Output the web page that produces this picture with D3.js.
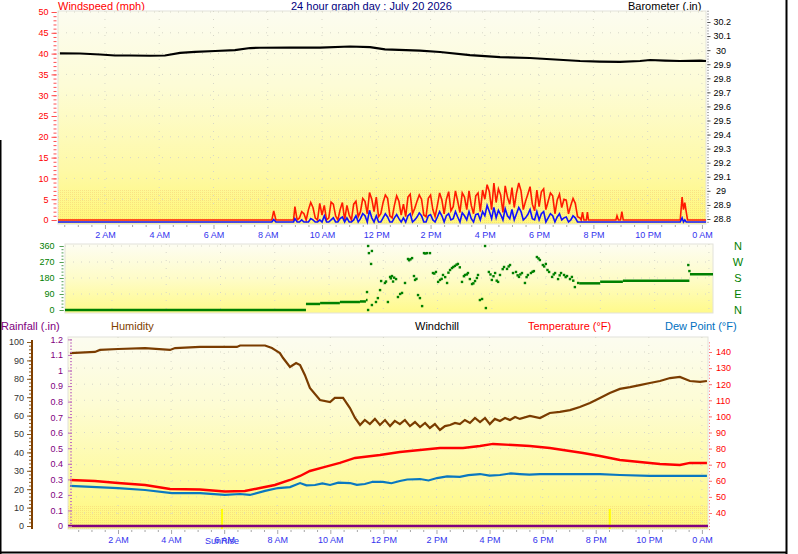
<!DOCTYPE html>
<html>
<head>
<meta charset="utf-8">
<script src="https://cdnjs.cloudflare.com/ajax/libs/d3/7.8.5/d3.min.js"></script>
<style>
body { margin: 0; background: #fff; }
svg { display: block; font-family: Arial, "Liberation Sans", sans-serif; }
</style>
</head>
<body>
<div id="chart"></div>
<script>
// ---- data (hours of the day, 0 = midnight) ----
var xTickHours = [2, 4, 6, 8, 10, 12, 14, 16, 18, 20, 22, 24];
var xTickLabels = ['2 AM', '4 AM', '6 AM', '8 AM', '10 AM', '12 PM', '2 PM', '4 PM', '6 PM', '8 PM', '10 PM', '0 AM'];

var windTicks = [0, 5, 10, 15, 20, 25, 30, 35, 40, 45, 50];
var baroTicks = [28.8, 28.9, 29, 29.1, 29.2, 29.3, 29.4, 29.5, 29.6, 29.7, 29.8, 29.9, 30, 30.1, 30.2];
var baroLabels = ['28.8', '28.9', ' 29', '29.1', '29.2', '29.3', '29.4', '29.5', '29.6', '29.7', '29.8', '29.9', ' 30', '30.1', '30.2'];
var dirTicks = [0, 90, 180, 270, 360];
var compassLabels = ['N', 'W', 'S', 'E', 'N'];
var rainTicks = [0, 0.1, 0.2, 0.3, 0.4, 0.5, 0.6, 0.7, 0.8, 0.9, 1, 1.1, 1.2];
var humTicks = [0, 10, 20, 30, 40, 50, 60, 70, 80, 90, 100];
var tempTicks = [40, 50, 60, 70, 80, 90, 100, 110, 120, 130, 140];

// wind gust / average every 5 minutes from 9:00 to 19:30
var gustDay = [
  3.2, 0, 0.5, 2, 1.5, 0, 2.5, 4.2, 3, 0.5, 0, 4,
  1.2, 3.5, 0, 0.5, 4.3, 3.8, 1, 0, 2.5, 4.2, 0, 3.5,
  1.2, 0, 3.8, 4.5, 0.8, 2, 5.2, 4.5, 1.5, 6.6, 5, 2,
  5.5, 0.8, 1.5, 4.2, 6, 5.2, 1, 0.5, 3.5, 5.8, 4.5, 1.2,
  3.8, 0.8, 5.5, 6.2, 1.5, 2.8, 4.5, 6, 5, 1.2, 0.8, 5.2,
  6, 2.5, 0.8, 3.5, 6.5, 4.8, 1.5, 5, 6.8, 2.2, 3.2, 7,
  4.5, 1.8, 6.5, 5.5, 2.5, 7, 3.5, 1.5, 5.8, 6.5, 2, 7.2,
  5, 8.5, 6.8, 2.5, 8.9, 4.2, 7.5, 6, 1.8, 8.2, 5.5, 3.8,
  7.8, 3, 6.5, 8.9, 7, 2.5, 4.5, 6.2, 8, 3.8, 2.2, 7.2,
  3.2, 6.8, 7.5, 2.5, 4.5, 6.5, 5.8, 1.5, 4.8, 6.2, 3, 5,
  4.8, 1.5, 3.5, 5.2, 4, 0.8, 0.5
];
var avgDay = [
  0.8, 0, 0, 0.5, 0, 0, 0, 0.8, 0.5, 0, 0, 0.5,
  0, 1.5, 0, 0, 0.5, 1, 0, 0, 0.8, 1.2, 0, 1,
  0, 0, 0.5, 1.5, 0, 0.8, 2, 1.5, 0, 2.8, 1, 0,
  1.5, 0, 0, 1, 2, 1.2, 0, 0, 1, 1.8, 0.8, 0,
  1, 0, 1.5, 2, 0, 0.5, 1.2, 2.2, 1.5, 0, 0, 1.5,
  1.8, 0.5, 0, 1.2, 2.5, 1.5, 0, 1.5, 2, 0.5, 0.8, 2.5,
  1.2, 0, 2.2, 1.5, 0.5, 2.5, 0.8, 0, 1.8, 2, 0.5, 2.5,
  1.5, 4, 2.5, 0.8, 3.5, 1, 2.8, 1.8, 0.5, 3.2, 1.5, 0.8,
  3, 0.5, 2, 3.5, 2.5, 0.5, 1, 1.8, 3, 0.8, 0.5, 2.5,
  0.5, 2, 2.5, 0, 1, 2, 1.5, 0, 1.2, 2, 0.5, 1,
  1.2, 0, 0.5, 1.5, 1, 0, 0
];
// [hour, gust, average] outside the busy period
var windExtra = [
  [0.27, 0, 0], [8.15, 0, 0], [8.22, 2.2, 0.6], [8.3, 0, 0], [8.95, 0, 0],
  [19.55, 0, 0], [19.6, 1.9, 0], [19.65, 0, 0], [19.74, 0, 0], [19.78, 1.9, 0], [19.82, 0, 0],
  [20.83, 0, 0], [20.87, 1, 0], [20.92, 0, 0], [21.0, 0, 0], [21.05, 2, 0], [21.1, 0, 0],
  [23.2, 0, 0], [23.27, 5.5, 1], [23.32, 2.5, 0], [23.37, 4.2, 0.5], [23.42, 2, 0], [23.47, 0, 0],
  [24.15, 0, 0]
];

var baroTimes = [0.34, 1.08, 1.82, 2.37, 2.92, 3.66, 4.21, 4.77, 5.32, 6.06, 6.79, 7.35, 7.71, 8.82, 9.93, 11.03,
  11.77, 12.32, 13.61, 14.35, 15.45, 16.56, 17.66, 19.51, 20.24, 20.98, 21.72, 22.09, 22.64, 23.19, 23.93, 24.15];
var baroValues = [29.977, 29.976, 29.969, 29.962, 29.962, 29.960, 29.962, 29.980, 29.987, 29.994, 30.000, 30.015,
  30.017, 30.018, 30.018, 30.026, 30.022, 30.005, 29.997, 29.987, 29.965, 29.951, 29.944, 29.923, 29.919, 29.917,
  29.923, 29.930, 29.926, 29.923, 29.926, 29.923];

// wind direction: steady periods [start hour, end hour, degrees] and scattered samples
var dirSteady = [
  [0.27, 9.15, 0], [9.15, 9.67, 34], [9.67, 10.4, 39], [10.4, 11.14, 45], [11.14, 11.36, 48], [11.36, 11.42, 56],
  [19.22, 19.99, 150], [19.99, 20.83, 159], [20.83, 23.28, 165], [23.3, 24.15, 201]
];
var dirPtTimes = [11.40, 11.44, 11.47, 11.55, 11.58, 11.44, 11.58, 11.73, 11.80, 11.88, 11.92, 12.06, 12.10, 12.17,
  12.25, 12.28, 12.32, 12.36, 12.40, 12.47, 12.54, 12.62, 12.69, 12.80, 12.91, 12.95, 13.00, 13.06, 13.13, 13.17,
  13.22, 13.28, 13.35, 13.43, 13.50, 13.55, 13.61, 13.72, 13.83, 13.88, 13.94, 14.02, 14.09, 14.15, 14.20, 14.28,
  14.35, 14.40, 14.46, 14.53, 14.58, 14.64, 14.70, 14.75, 14.82, 14.90, 14.97, 15.01, 15.08, 15.12, 15.19, 15.27,
  15.32, 15.38, 15.45, 15.49, 15.56, 15.64, 15.75, 15.78, 15.89, 15.95, 16.00, 16.06, 16.12, 16.18, 16.23, 16.30,
  16.40, 16.45, 16.56, 16.62, 16.67, 16.78, 16.89, 16.95, 17.00, 17.05, 17.11, 17.22, 17.28, 17.33, 17.44, 17.50,
  17.55, 17.66, 17.72, 17.77, 17.88, 17.93, 17.99, 18.05, 18.11, 18.22, 18.28, 18.33, 18.44, 18.50, 18.55, 18.66,
  18.72, 18.77, 18.88, 18.95, 19.00, 19.06, 19.18, 23.24, 23.28];
var dirPtValues = [101, 360, 320, 259, 332, 0, 28, 45, 67, 112, 163, 152, 160, 45,
  186, 178, 191, 160, 182, 174, 73, 90, 96, 152, 287, 280, 285, 292, 191, 169,
  175, 84, 67, 22, 320, 318, 320, 320, 208, 205, 214, 158, 169, 175, 197, 185,
  152, 210, 225, 236, 242, 248, 255, 259, 240, 158, 190, 197, 200, 208, 174, 146,
  150, 163, 180, 197, 56, 62, 360, 11, 214, 200, 169, 190, 208, 165, 158, 197,
  230, 242, 231, 245, 253, 208, 214, 195, 186, 200, 208, 152, 185, 197, 208, 215,
  219, 298, 290, 281, 253, 245, 259, 225, 214, 186, 200, 208, 174, 195, 208, 197,
  185, 191, 174, 186, 165, 129, 152, 253, 219];

var humTimes = [0.19, 1.13, 1.32, 2.0, 3.02, 3.96, 4.15, 5.09, 6.48, 6.6, 7.54, 7.8, 7.91, 8.1, 8.22, 8.48, 8.71, 8.86,
  9.04, 9.23, 9.61, 9.99, 10.17, 10.48, 10.74, 10.93, 11.12, 11.3, 11.49, 11.68, 11.87, 12.06, 12.25, 12.43, 12.62,
  12.81, 13.0, 13.19, 13.38, 13.57, 13.75, 13.94, 14.13, 14.32, 14.51, 14.7, 14.88, 15.07, 15.26, 15.45, 15.64, 15.83,
  16.01, 16.2, 16.39, 16.58, 16.77, 16.96, 17.14, 17.52, 17.9, 18.27, 18.65, 19.03, 19.4, 19.78, 20.16, 20.53, 20.91,
  21.29, 21.66, 22.04, 22.42, 22.8, 23.17, 23.55, 23.93, 24.19];
var humValues = [94.0, 94.6, 95.7, 96.2, 96.7, 95.7, 96.7, 97.3, 97.3, 98.1, 98.1, 96.7, 95.7, 94.0, 91.3, 86.4, 88.6,
  87.5, 82.1, 75.0, 68.5, 67.4, 69.6, 69.6, 64.1, 58.7, 54.9, 57.6, 55.4, 58.2, 54.9, 57.6, 54.3, 57.1, 55.4, 57.6,
  54.3, 56.5, 53.8, 56.0, 53.3, 55.4, 52.2, 54.3, 54.9, 56.0, 55.4, 57.6, 56.0, 58.7, 56.5, 58.7, 55.4, 58.2, 57.1,
  58.7, 57.6, 59.2, 58.2, 59.8, 58.7, 61.4, 62.0, 63.0, 64.7, 66.8, 69.6, 72.3, 74.5, 75.5, 76.6, 77.7, 78.8, 80.4,
  81.0, 78.8, 78.3, 78.8];

var tempTimes = [0.19, 1.13, 2.0, 3.02, 3.96, 5.09, 6.03, 6.78, 7.35, 7.91, 8.48, 8.86, 9.23, 9.8, 10.36, 10.93, 11.87,
  12.62, 13.38, 14.13, 15.0, 15.64, 16.13, 16.88, 17.52, 18.27, 19.52, 20.16, 20.91, 21.66, 22.42, 23.17, 23.55, 24.19];
var tempValues = [60.5, 59.9, 58.6, 57.4, 54.9, 54.6, 53.4, 53.7, 55.5, 57.4, 60.5, 63.0, 66.1, 68.6, 71.1, 74.2, 76.0,
  77.9, 79.1, 80.4, 80.4, 81.6, 82.9, 82.2, 81.6, 80.4, 77.3, 75.4, 72.9, 71.7, 70.4, 69.8, 71.1, 71.1];

var dewTimes = [0.19, 2.0, 3.02, 4.03, 5.09, 6.03, 6.6, 6.97, 7.54, 8.03, 8.48, 8.86, 9.1, 9.42, 9.7, 9.99, 10.3, 10.74,
  11.0, 11.3, 11.6, 11.98, 12.3, 12.62, 12.9, 13.38, 13.7, 14.02, 14.4, 14.88, 15.2, 15.64, 16.0, 16.39, 16.8, 17.14,
  17.5, 17.9, 18.65, 19.4, 20.16, 20.91, 22.04, 24.19];
var dewValues = [56.8, 55.5, 54.3, 52.4, 52.4, 51.2, 51.8, 51.2, 53.7, 55.5, 56.1, 58.6, 57.2, 57.4, 58.4, 57.4, 58.9,
  58.6, 57.5, 58.0, 59.4, 59.3, 58.5, 59.9, 60.8, 61.1, 60.2, 61.7, 62.8, 62.4, 63.5, 64.2, 63.2, 63.6, 64.6, 64.2,
  63.8, 64.2, 64.2, 64.2, 64.2, 63.6, 63.0, 63.0];

var rainTimes = [0.12, 24.23];
var rainValues = [0, 0];

var sunEvents = [5.92, 20.53];   // sunrise, sunset
var sunLabels = ['SunRise', ''];

// ---- drawing ----
var svg = d3.select('#chart').append('svg')
    .attr('width', 798)
    .attr('height', 554);

var defs = svg.append('defs');
var addGradient = function(id, stops) {
    var g = defs.append('linearGradient').attr('id', id)
        .attr('x1', 0).attr('y1', 0).attr('x2', 0).attr('y2', 1);
    stops.forEach(s => g.append('stop').attr('offset', s[0]).attr('stop-color', s[1]));
}
addGradient('bgTop', [[0, '#fcfcf0'], [0.35, '#fdfcd6'], [0.75, '#fef9a6'], [1, '#fff878']]);
addGradient('bgMid', [[0, '#fdfdf2'], [0.5, '#fefcc8'], [1, '#fffa8a']]);
addGradient('bgBot', [[0, '#fcfcf0'], [0.35, '#fdfcd4'], [0.75, '#fefaa0'], [1, '#fff87a']]);
var pat = defs.append('pattern').attr('id', 'dither')
    .attr('patternUnits', 'userSpaceOnUse').attr('width', 2).attr('height', 2);
pat.append('rect').attr('width', 1).attr('height', 1).attr('fill', '#f2c870');

var font = 'Arial, "Liberation Sans", sans-serif';

var txt = function(x, y, s, color, anchor) {
    return svg.append('text').attr('x', x).attr('y', y).text(s)
        .attr('fill', color).attr('font-size', 11).attr('text-anchor', anchor || 'start');
}

// headers of the top panel sit behind the plot so the descenders are clipped
txt(58, 10, 'Windspeed (mph)', '#ff0000');
txt(291, 10, '24 hour graph day : July 20 2026', '#000080');
txt(628, 10, 'Barometer (.in)', '#000000');

var drawPlotArea = function(x0, y0, x1, y1, grad, ditherTop) {
    svg.append('rect').attr('x', x0).attr('y', y0).attr('width', x1 - x0).attr('height', y1 - y0)
        .attr('fill', 'url(#' + grad + ')').attr('stroke', '#e2e2da').attr('stroke-width', 1);
    if (ditherTop) {
        svg.append('rect').attr('x', x0).attr('y', ditherTop).attr('width', x1 - x0).attr('height', y1 - ditherTop)
            .attr('fill', 'url(#dither)').attr('opacity', 0.45);
    }
}

var gridlines = function(xs, yTop, yBot, ys, xLeft, xRight) {
    var g = svg.append('g').attr('stroke', '#d6d6c8').attr('stroke-dasharray', '1,7').attr('stroke-width', 1);
    xTickHours.forEach(h => {
        if (h < xs.domain()[1]) {
            g.append('line').attr('x1', xs(h)).attr('x2', xs(h)).attr('y1', yTop).attr('y2', yBot);
        }
    });
    ys.forEach(y => g.append('line').attr('x1', xLeft).attr('x2', xRight).attr('y1', y).attr('y2', y));
}

var styleAxis = function(g, lineColor, textColor) {
    g.attr('font-family', font).attr('font-size', 9);
    g.select('.domain').remove();
    g.selectAll('.tick line').attr('stroke', lineColor);
    g.selectAll('.tick text').attr('fill', textColor);
}

var range = function(a, b, step) {
    var out = [];
    for (var v = a; v <= b + 1e-9; v += step) out.push(+v.toFixed(4));
    return out;
}

var xAxisAt = function(xs, y) {
    var halfHours = range(0.5, 24, 0.5).filter(h => h % 2 !== 0 && h >= xs.domain()[0]);
    var minor = svg.append('g').attr('transform', 'translate(0,' + y + ')')
        .call(d3.axisBottom(xs).tickValues(halfHours).tickSize(2).tickFormat(''));
    styleAxis(minor, '#a8a8a8', '#3333ee');
    var major = svg.append('g').attr('transform', 'translate(0,' + y + ')')
        .call(d3.axisBottom(xs).tickValues(xTickHours).tickSize(4).tickPadding(3)
            .tickFormat((d, i) => xTickLabels[i]));
    styleAxis(major, '#a8a8a8', '#3333ee');
}

var yAxisAt = function(axisFn, scale, x, ticks, labels, minorTicks, tickColor, textColor, size, pad) {
    var minor = svg.append('g').attr('transform', 'translate(' + x + ',0)')
        .call(axisFn(scale).tickValues(minorTicks).tickSize(size - 2).tickFormat(''));
    styleAxis(minor, tickColor, textColor);
    var major = svg.append('g').attr('transform', 'translate(' + x + ',0)')
        .call(axisFn(scale).tickValues(ticks).tickSize(size).tickPadding(pad)
            .tickFormat((d, i) => labels[i]));
    styleAxis(major, tickColor, textColor);
    major.selectAll('.tick text').style('white-space', 'pre');
    return major;
}

// ===== top panel: wind speed and barometer =====
var xTop = d3.scaleLinear().domain([0.27, 24.15]).range([58, 706]);
var yWind = d3.scaleLinear().domain([0, 50]).range([220, 12]);
var yBaro = d3.scaleLinear().domain([28.8, 30.2]).range([219, 22]);

drawPlotArea(58, 11, 706, 224, 'bgTop', 189);
gridlines(xTop, 11, 224, windTicks.slice(1).map(yWind), 58, 706);

var windRows = gustDay.map((g, i) => ({h: 9 + i * 5 / 60, g: g, a: avgDay[i]}))
    .concat(windExtra.map(r => ({h: r[0], g: r[1], a: r[2]})))
    .sort((a, b) => a.h - b.h);

svg.append('path').datum(windRows)
    .attr('d', d3.line().x(d => xTop(d.h)).y(d => yWind(d.g)))
    .attr('fill', 'none').attr('stroke', '#ff1a00').attr('stroke-width', 1.6);
svg.append('path').datum(windRows)
    .attr('d', d3.line().x(d => xTop(d.h)).y(d => yWind(d.a)))
    .attr('transform', 'translate(0,2)')
    .attr('fill', 'none').attr('stroke', '#1010ff').attr('stroke-width', 1.6);

svg.append('path').datum(baroTimes.map((t, i) => [t, baroValues[i]]))
    .attr('d', d3.line().x(d => xTop(d[0])).y(d => yBaro(d[1])))
    .attr('fill', 'none').attr('stroke', '#000').attr('stroke-width', 2.2);

yAxisAt(d3.axisLeft, yWind, 56.5, windTicks, windTicks.map(String), range(0, 50, 1), '#ff5050', '#ff0000', 5, 3);
yAxisAt(d3.axisRight, yBaro, 707.5, baroTicks, baroLabels, range(28.78, 30.28, 0.02), '#555', '#000', 3, 3);
xAxisAt(xTop, 225);

// ===== middle panel: wind direction =====
var xMid = d3.scaleLinear().domain([0.27, 24.15]).range([65, 713]);
var yDir = d3.scaleLinear().domain([0, 360]).range([310, 246]);

drawPlotArea(65, 244, 713, 313, 'bgMid', null);
gridlines(xMid, 244, 313, dirTicks.slice(1).map(yDir), 65, 713);

svg.append('g').selectAll('line').data(dirSteady).join('line')
    .attr('x1', d => xMid(d[0])).attr('x2', d => xMid(d[1]))
    .attr('y1', d => yDir(d[2])).attr('y2', d => yDir(d[2]))
    .attr('stroke', '#008000').attr('stroke-width', 2.5);
svg.append('g').selectAll('rect').data(dirPtTimes).join('rect')
    .attr('x', d => xMid(d) - 1.2)
    .attr('y', (d, i) => yDir(dirPtValues[i]) - 1.2)
    .attr('width', 2.4).attr('height', 2.4)
    .attr('fill', '#008000');

yAxisAt(d3.axisLeft, yDir, 63.5, dirTicks, dirTicks.map(String), range(0, 360, 18), '#55a055', '#008000', 4, 5);

svg.append('g').selectAll('text').data(compassLabels).join('text')
    .attr('x', 738)
    .attr('y', (d, i) => yDir(360 - i * 90) + 4)
    .attr('text-anchor', 'middle')
    .attr('font-size', 11)
    .attr('fill', '#008000')
    .text(d => d);

// ===== bottom panel: rain, humidity, temperature, dew point =====
var xBot = d3.scaleLinear().domain([0.116, 24.23]).range([68, 708]);
var yRain = d3.scaleLinear().domain([0, 1.2]).range([526, 339.4]);
var yHum = d3.scaleLinear().domain([0, 100]).range([526, 342]);
var yTemp = d3.scaleLinear().domain([40, 140]).range([513, 352]);

txt(1, 330, 'Rainfall (.in)', '#800080');
txt(111, 330, 'Humidity', '#804000');
txt(415, 330, 'Windchill', '#000000');
txt(528, 330, 'Temperature (°F)', '#ff0000');
txt(665, 330, 'Dew Point (°F)', '#0070c0');

drawPlotArea(68, 337, 708, 529, 'bgBot', 506);
gridlines(xBot, 337, 529, tempTicks.map(yTemp), 68, 708);

// sunrise / sunset markers
svg.append('g').selectAll('line').data(sunEvents).join('line')
    .attr('x1', d => xBot(d)).attr('x2', d => xBot(d))
    .attr('y1', 509).attr('y2', 529)
    .attr('stroke', '#ffff00').attr('stroke-width', 2);

var lineBot = function(times, values, ys, color, width) {
    svg.append('path').datum(times.map((t, i) => [t, values[i]]))
        .attr('d', d3.line().x(d => xBot(d[0])).y(d => ys(d[1])))
        .attr('fill', 'none').attr('stroke', color).attr('stroke-width', width);
}
lineBot(rainTimes, rainValues, yRain, '#800080', 2.5);
lineBot(dewTimes, dewValues, yTemp, '#0a78c0', 2.2);
lineBot(tempTimes, tempValues, yTemp, '#ff0000', 2.4);
lineBot(humTimes, humValues, yHum, '#7a3c00', 2.2);

// humidity axis, far left, with a solid spine
svg.append('line').attr('x1', 32).attr('x2', 32).attr('y1', 340).attr('y2', 529)
    .attr('stroke', '#804000').attr('stroke-width', 2);
yAxisAt(d3.axisLeft, yHum, 31, humTicks, humTicks.map(String), range(0, 100, 2), '#8a5a20', '#333', 4, 3);
yAxisAt(d3.axisLeft, yRain, 72, rainTicks, rainTicks.map(String), range(0, 1.2, 0.02), '#c070c0', '#800080', 4, 5);
yAxisAt(d3.axisRight, yTemp, 709, tempTicks, tempTicks.map(String), range(30, 146, 2), '#ff7070', '#ff0000', 3, 4);
xAxisAt(xBot, 530);

svg.append('g').selectAll('text').data(sunEvents).join('text')
    .attr('x', d => xBot(d))
    .attr('y', 544)
    .attr('text-anchor', 'middle')
    .attr('font-size', 9)
    .attr('fill', '#3333ee')
    .text((d, i) => sunLabels[i]);

// window frame
svg.append('line').attr('x1', 786.5).attr('x2', 786.5).attr('y1', 0).attr('y2', 554)
    .attr('stroke', '#000').attr('stroke-width', 2);
svg.append('line').attr('x1', 0).attr('x2', 787).attr('y1', 552.5).attr('y2', 552.5)
    .attr('stroke', '#000').attr('stroke-width', 2);
svg.append('line').attr('x1', 0.5).attr('x2', 0.5).attr('y1', 140).attr('y2', 554)
    .attr('stroke', '#000').attr('stroke-width', 2);
</script>
</body>
</html>
